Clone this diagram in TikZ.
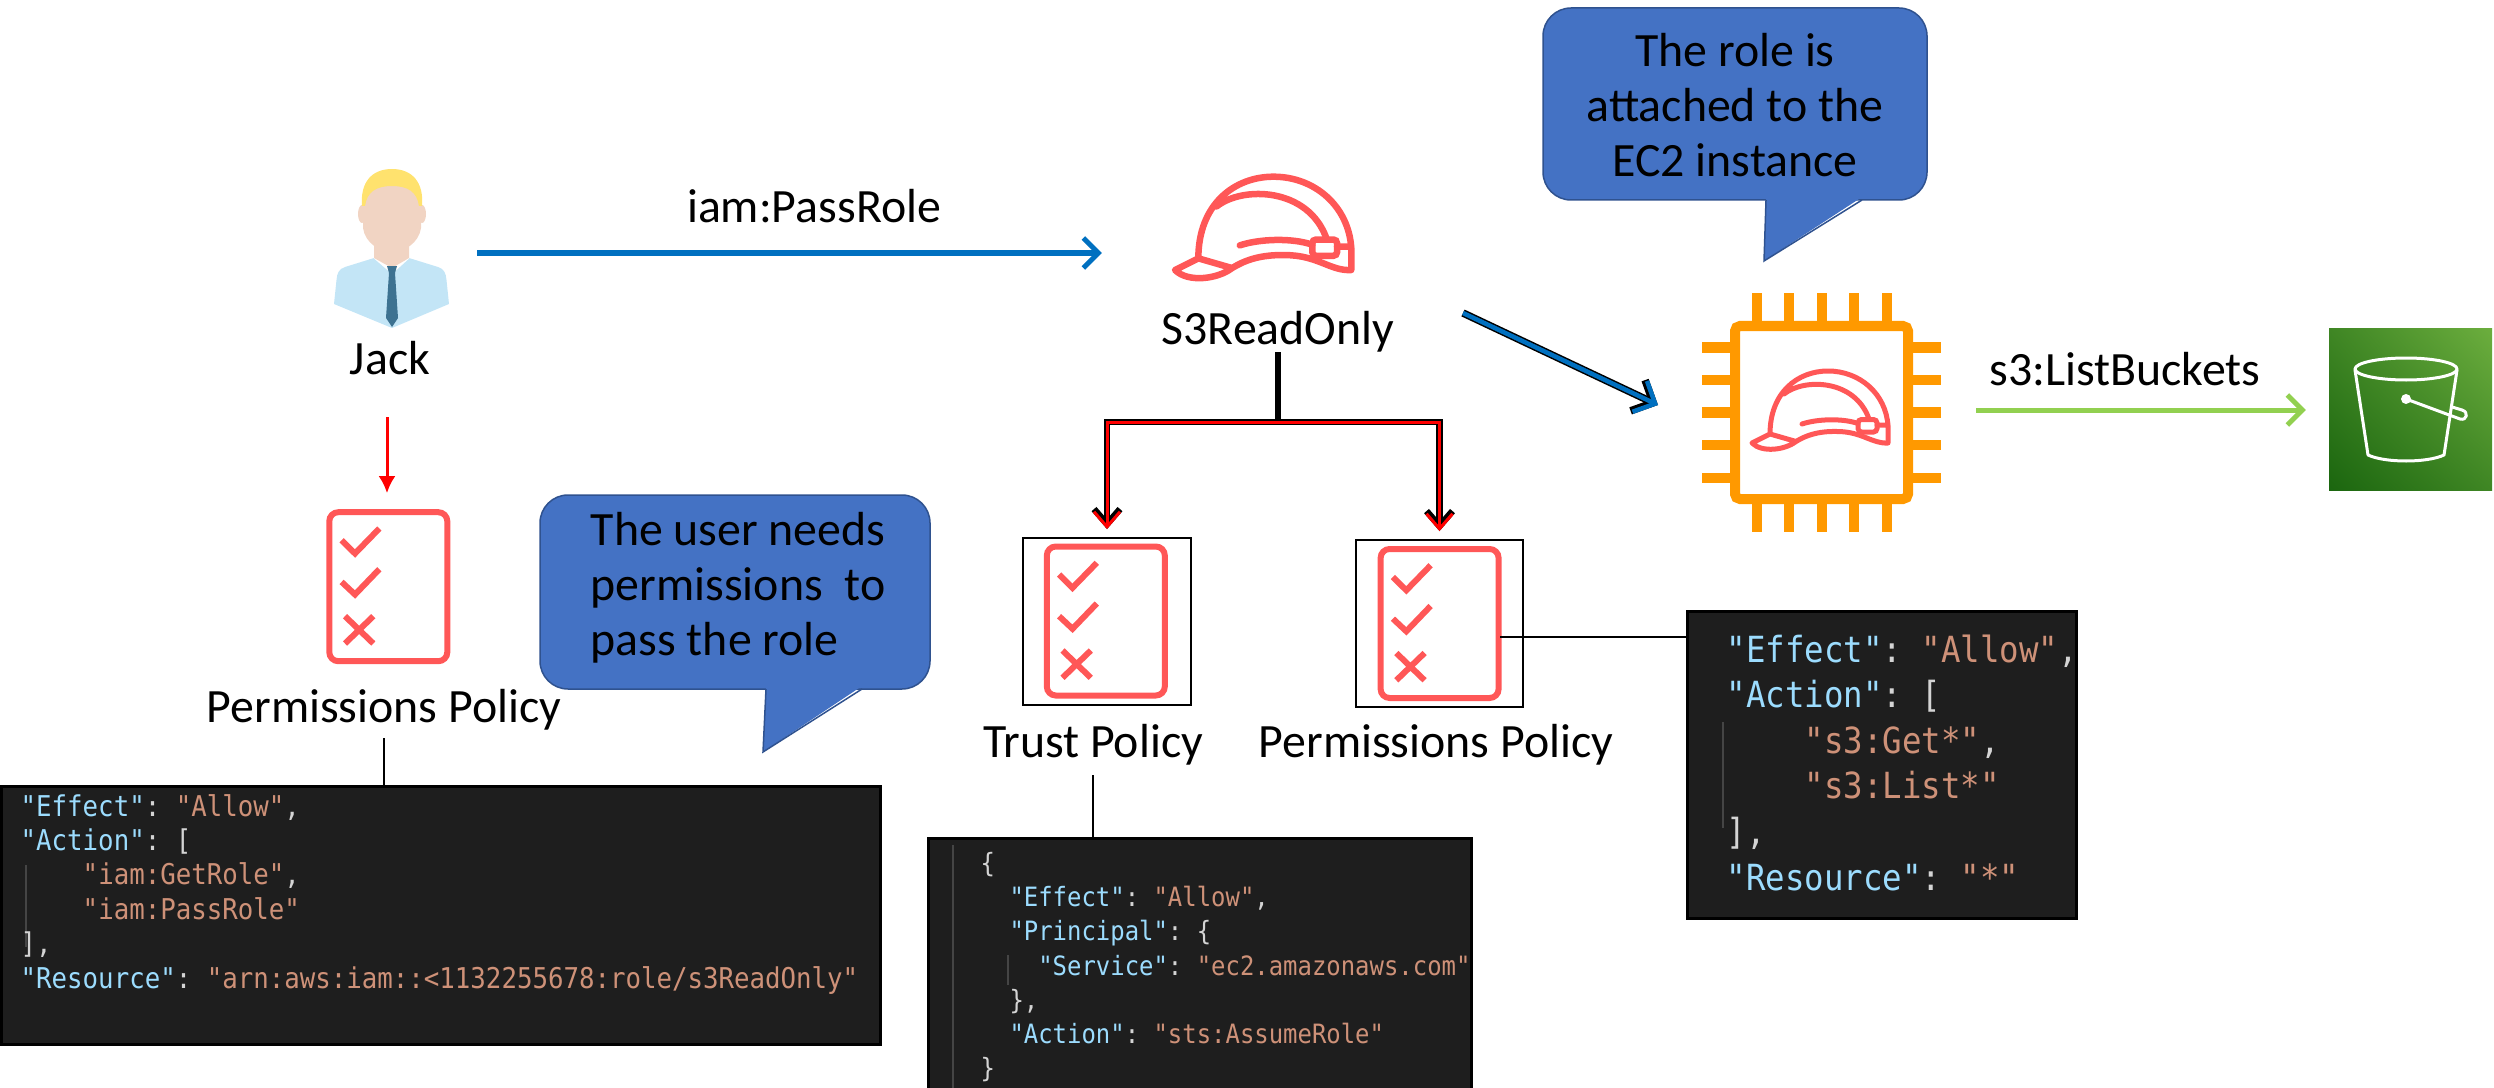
\documentclass[tikz,border=0pt]{standalone}
\usepackage{fontspec}
\setmainfont{Carlito}
\newfontfamily\codefont[FakeStretch=0.9]{DejaVu Sans Mono}
\usetikzlibrary{arrows.meta,shadings}

\definecolor{iconred}{HTML}{FF5757}
\definecolor{ec2orange}{HTML}{FF9900}
\definecolor{calloutfill}{HTML}{4472C4}
\definecolor{calloutedge}{HTML}{2F528F}
\definecolor{arrowblue}{HTML}{0070C0}
\definecolor{arrowgreen}{HTML}{92D050}
\definecolor{codebg}{HTML}{1E1E1E}
\definecolor{codeguide}{HTML}{454545}
\definecolor{jsonkey}{HTML}{9CDCFE}
\definecolor{jsonstr}{HTML}{CE9178}
\definecolor{jsonpunct}{HTML}{D4D4D4}
\definecolor{s3dark}{HTML}{1B660F}
\definecolor{s3mid}{HTML}{3F8624}
\definecolor{s3light}{HTML}{6CAE3E}
\definecolor{skin}{HTML}{F1D4C3}
\definecolor{hair}{HTML}{FFE26E}
\definecolor{shirt}{HTML}{C3E5F6}
\definecolor{tie}{HTML}{3D7291}

\newcommand\jk[1]{\textcolor{jsonkey}{#1}}
\newcommand\js[1]{\textcolor{jsonstr}{#1}}

\tikzset{
  lbl/.style={font=\fontsize{13.6}{16}\selectfont, anchor=base, inner sep=0pt},
  anchorbox/.style={inner sep=0pt, outer sep=0pt},
  codebox/.style={draw=black, fill=codebg, line width=0.03cm, anchor=north west, inner sep=0pt},
  codeA/.style={font=\codefont\frenchspacing\fontsize{8.14}{10}\selectfont, text=jsonpunct, anchor=base west, inner sep=0pt},
  codeB/.style={font=\codefont\frenchspacing\fontsize{7.56}{10}\selectfont, text=jsonpunct, anchor=base west, inner sep=0pt},
  codeC/.style={font=\codefont\frenchspacing\fontsize{10.24}{12}\selectfont, text=jsonpunct, anchor=base west, inner sep=0pt},
  guide/.style={draw=codeguide, line width=0.012cm},
  callout/.style={fill=calloutfill, draw=calloutedge, line width=0.015cm},
  callouttext/.style={font=\fontsize{13.6}{15.65}\selectfont, inner sep=0pt},
  policybox/.style={draw=black, line width=0.018cm, inner sep=0pt},
  thinline/.style={draw=black, line width=0.015cm},
  passarrow/.style={draw=arrowblue, line width=0.05cm, -{Straight Barb[length=0.15cm,width=0.3cm]}},
  listarrow/.style={draw=arrowgreen, line width=0.05cm, -{Straight Barb[length=0.15cm,width=0.3cm]}},
  diagouter/.style={draw=black, line width=0.075cm, -{Straight Barb[length=0.17cm,width=0.34cm]}},
  diaginner/.style={draw=arrowblue, line width=0.045cm, -{Straight Barb[length=0.17cm,width=0.34cm]}},
  treeouter/.style={draw=black, line width=0.065cm, -{Straight Barb[length=0.15cm,width=0.26cm]}, shorten >=0.08cm},
  treeinner/.style={draw=red, line width=0.03cm, -{Straight Barb[length=0.15cm,width=0.26cm]}, shorten >=0.08cm},
  redarrow/.style={draw=red, line width=0.03cm, -{Latex[length=0.17cm,width=0.17cm]}},
  ec2pin/.style={draw=ec2orange, line width=0.1cm},
  policyicon/.pic={
    \draw[iconred, line width=0.06cm, rounded corners=0.09cm] (-59,-74.5) rectangle (59,74.5);
    \draw[iconred, line width=0.06cm]
      (-46.7,-46.5) -- (-33.3,-33.2) -- (-9,-58.2)
      (-46.7,-4.8) -- (-33.3,7.8) -- (-9,-17.5)
      (-43.3,29.5) -- (-15,56.8) (-15,29.5) -- (-43.3,56.8);
  },
  helmet/.pic={
    \draw[line cap=round, line join=round]
      (0,7.3) .. controls (1,8.3) and (3.3,8.0) .. (4.4,7.15) -- (1.8,6.4) -- cycle
      (1.8,6.4) .. controls (1.8,2.2) and (4.6,0.1) .. (7.6,0.1)
        .. controls (10.8,0.1) and (13.4,2.4) .. (13.6,5.6) -- (13.6,7.3)
        .. controls (12,7.4) and (11,6.15) .. (8.5,6.15)
        .. controls (6.5,6.1) and (5.3,6.6) .. (4.4,7.15)
      (3.2,2.4) .. controls (5.2,0.8) and (10.3,0.9) .. (11.7,4.9)
      (5,5.4) .. controls (6.5,4.9) and (9,4.8) .. (10.6,5.35)
      (12.5,5.5) -- (13.6,5.5);
    \draw[rounded corners=0.035cm] (10.6,4.95) rectangle (12.5,6.2);
  }
}

\begin{document}
\begin{tikzpicture}[x=0.01cm,y=-0.01cm]
\useasboundingbox (0,0) rectangle (2494,1088);

% ---------- Jack ----------
\fill[shirt] (374,258) -- (345,267) .. controls (339,269) and (337,273) .. (336.5,280)
  -- (334,304) -- (392,328) -- (449,304) -- (446.5,280)
  .. controls (446,273) and (444,269) .. (438,267) -- (409,258) -- cycle;
\fill[white] (370,255) -- (392,274) -- (413,255) -- cycle;
\fill[skin] (374,233) -- (409,233) -- (409,258) -- (392,268) -- (374,258) -- cycle;
\fill[skin] (362,214) ellipse [x radius=4, y radius=9];
\fill[skin] (422,214) ellipse [x radius=4, y radius=9];
\fill[skin] (363,200) .. controls (363,180) and (376,172) .. (392,172)
  .. controls (408,172) and (421,180) .. (421,200) -- (421,228)
  .. controls (419,243) and (404,252) .. (392,252)
  .. controls (380,252) and (365,243) .. (363,228) -- cycle;
\fill[hair] (362,206) .. controls (360,182) and (372,169) .. (392,169)
  .. controls (412,169) and (424,182) .. (422,206) -- (419,206)
  .. controls (417,192) and (408,186) .. (392,186)
  .. controls (376,186) and (367,192) .. (365,206) -- cycle;
\fill[tie] (387,266) -- (397,266) -- (395,273) -- (389,273) -- cycle;
\fill[tie] (389,273) -- (395,273) -- (398,318) -- (392,327) -- (386,318) -- cycle;
\node[anchorbox, minimum width=1.17cm, minimum height=1.66cm] (jack) at (391.5,253) {};
\node[lbl] (jacklbl) at (390,374) {Jack};

% ---------- user permissions policy ----------
\node[anchorbox, minimum width=1.23cm, minimum height=1.55cm] (userpol) at (388.3,586.7) {};
\pic at (388.3,586.7) {policyicon};
\node[lbl] (userpollbl) at (384,722) {Permissions Policy};
\coordinate (jackfoot) at (387,417);
\draw[redarrow, shorten >=0.16cm] (jackfoot) -- (jackfoot |- userpol.north);

% ---------- role ----------
\node[anchorbox, minimum width=1.78cm, minimum height=1.56cm] (role) at (1261,253) {};
\pic[iconred, line width=0.065cm, scale=12.96] at (1175,175.4) {helmet};
\node[lbl] (rolelbl) at (1278,344) {S3ReadOnly};
\node[lbl] (passlbl) at (814,222) {iam:PassRole};
\draw[passarrow, shorten <=0.27cm, shorten >=0.7cm] (jack.east) -- (role.west);

% ---------- trust / permissions policies of the role ----------
\node[policybox, minimum width=1.68cm, minimum height=1.67cm] (trustbox) at (1107,621.5) {};
\node[policybox, minimum width=1.67cm, minimum height=1.67cm] (permbox) at (1439.5,623.5) {};
\pic at (1105.8,621) {policyicon};
\pic at (1439.6,623.5) {policyicon};
\node[lbl] (trustlbl) at (1093,757) {Trust Policy};
\node[lbl] (permlbl) at (1436,757) {Permissions Policy};

\coordinate (fork) at (1278,422);
\draw[line width=0.055cm] (rolelbl.south) -- (fork);
\draw[treeouter] (fork) -| (trustbox.north);
\draw[treeouter] (fork) -| (permbox.north);
\draw[treeinner] (fork) -| (trustbox.north);
\draw[treeinner] (fork) -| (permbox.north);

% ---------- EC2 instance ----------
\node[anchorbox, minimum width=2.38cm, minimum height=2.34cm] (ec2) at (1821.5,410) {};
\foreach \d in {-65,-32.5,0,32.5,65} {
  \draw[ec2pin] (1821.5+\d,293) -- (1821.5+\d,322);
  \draw[ec2pin] (1821.5+\d,503) -- (1821.5+\d,532);
  \draw[ec2pin] (1702,412.5+\d) -- (1731,412.5+\d);
  \draw[ec2pin] (1912,412.5+\d) -- (1941,412.5+\d);
}
\draw[ec2orange, line width=0.1cm, rounded corners=0.05cm] (1735,326) rectangle (1908,499);
\pic[iconred, line width=0.05cm, scale=10] at (1752,370) {helmet};

\coordinate (roleout) at (1463,313);
\coordinate (ec2in) at (1658,405);
\draw[diagouter] (roleout) -- (ec2in);
\draw[diaginner] (roleout) -- (ec2in);

% ---------- S3 ----------
\node[anchorbox, minimum width=1.63cm, minimum height=1.64cm] (s3) at (2410.5,410) {};
\shade[lower left=s3dark, upper right=s3light, upper left=s3mid, lower right=s3mid]
  (2329,328) rectangle (2492,490);
\begin{scope}[draw=white, line width=0.03cm, line cap=round, line join=round]
  \draw (2406,369) ellipse [x radius=51, y radius=11];
  \draw (2355,370) -- (2368,455) .. controls (2385,463) and (2427,463) .. (2444,455) -- (2457,370);
  \draw (2406,399) -- (2460,419) .. controls (2467,421) and (2469,412) .. (2462,410) -- (2452,407);
  \fill[white] (2406,399) circle [radius=5];
\end{scope}
\node[lbl] (listlbl) at (2125,385) {s3:ListBuckets};
\draw[listarrow, shorten <=0.355cm, shorten >=0.23cm] (ec2.east) -- (s3.west);

% ---------- callouts ----------
\draw[callout, rounded corners=0.28cm] (540,495) rectangle (930,689);
\fill[calloutfill] (766,686) -- (763,752) -- (862,686) -- cycle;
\draw[calloutedge, line width=0.015cm] (766,689) -- (763,752) -- (862,689);
\node[callouttext, align=left, anchor=west] (needtxt) at (590,588)
  {The user needs\\permissions\ \ to\\pass the role};

\draw[callout, rounded corners=0.28cm] (1543,8) rectangle (1927,200);
\fill[calloutfill] (1766,197) -- (1764,261) -- (1862,197) -- cycle;
\draw[calloutedge, line width=0.015cm] (1766,200) -- (1764,261) -- (1862,200);
\node[callouttext, align=center] (roletxt) at (1735,105)
  {The role is\\attached to the\\EC2 instance};

% ---------- policy documents ----------
\node[codebox, minimum width=8.78cm, minimum height=2.58cm] (code1) at (0,785) {};
\draw[guide] (26,865) -- (26,947);
\node[codeA] (c1a) at (20,816) {\jk{"Effect"}: \js{"Allow"},};
\node[codeA] (c1b) at (20,850.4) {\jk{"Action"}: [};
\node[codeA] (c1c) at (20,884.8) {\phantom{0000}\js{"iam:GetRole"},};
\node[codeA] (c1d) at (20,919.2) {\phantom{0000}\js{"iam:PassRole"}};
\node[codeA] (c1e) at (20,953.6) {],};
\node[codeA] (c1f) at (20,988) {\jk{"Resource"}: \js{"arn:aws:iam::<1132255678:role/s3ReadOnly"}};
\draw[thinline, shorten <=0.08cm] (userpollbl.south) -- (userpollbl.south |- code1.north);

\node[codebox, minimum width=5.43cm, minimum height=2.6cm] (code2) at (927,837) {};
\draw[guide] (953,845) -- (953,1088);
\draw[guide] (1008,955) -- (1008,985);
\node[codeB] (c2a) at (980,872) {\{};
\node[codeB] (c2b) at (980,906) {\phantom{00}\jk{"Effect"}: \js{"Allow"},};
\node[codeB] (c2c) at (980,940) {\phantom{00}\jk{"Principal"}: \{};
\node[codeB] (c2d) at (980,975) {\phantom{0000}\jk{"Service"}: \js{"ec2.amazonaws.com"}};
\node[codeB] (c2e) at (980,1009) {\phantom{00}\},};
\node[codeB] (c2f) at (980,1043) {\phantom{00}\jk{"Action"}: \js{"sts:AssumeRole"}};
\node[codeB] (c2g) at (980,1077) {\}};
\draw[thinline, shorten <=0.1cm] (trustlbl.south) -- (trustlbl.south |- code2.north);

\node[codebox, minimum width=3.89cm, minimum height=3.07cm] (code3) at (1686,610) {};
\draw[guide] (1723,722) -- (1723,828);
\node[codeC] (c3a) at (1726,662) {\jk{"Effect"}: \js{"Allow"},};
\node[codeC] (c3b) at (1726,707.6) {\jk{"Action"}: [};
\node[codeC] (c3c) at (1726,753.2) {\phantom{0000}\js{"s3:Get*"},};
\node[codeC] (c3d) at (1726,798.8) {\phantom{0000}\js{"s3:List*"}};
\node[codeC] (c3e) at (1726,844.4) {],};
\node[codeC] (c3f) at (1726,890) {\jk{"Resource"}: \js{"*"}};
\coordinate (permhook) at (1500,637);
\draw[thinline] (permhook) -- (permhook -| code3.west);

\end{tikzpicture}
\end{document}
